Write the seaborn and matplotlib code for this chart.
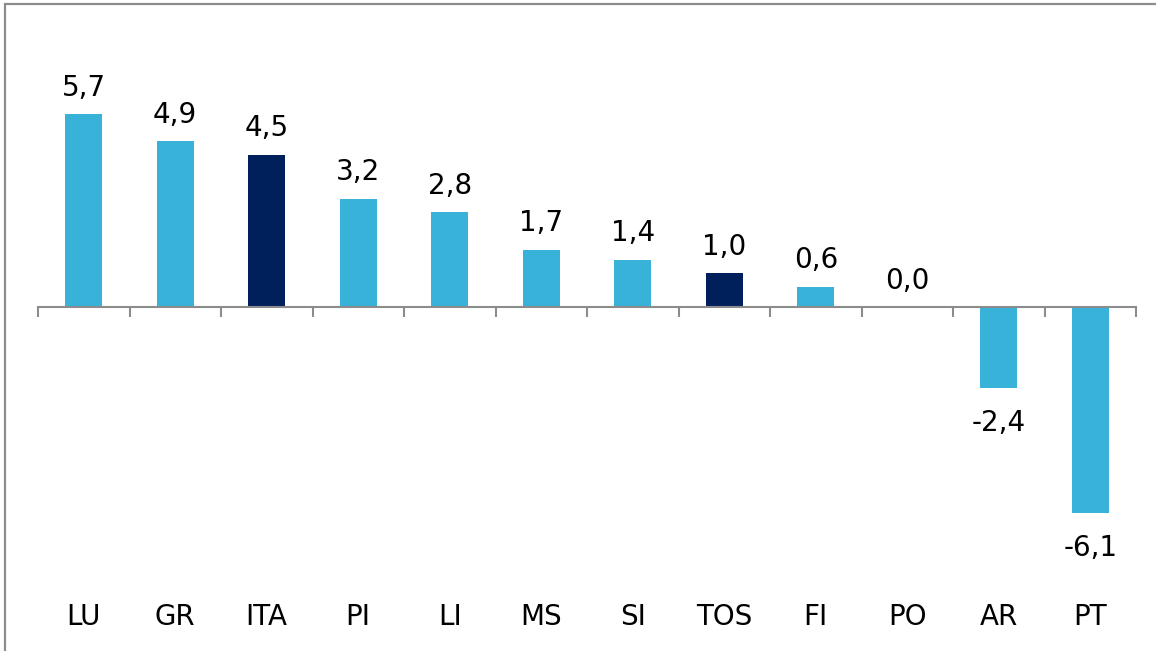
import numpy as np
import pandas as pd
import matplotlib
matplotlib.use("Agg")
import matplotlib.pyplot as plt
import seaborn as sns
from matplotlib.patches import Rectangle

# data
categories = ["LU", "GR", "ITA", "PI", "LI", "MS", "SI", "TOS", "FI", "PO", "AR", "PT"]
values = [5.7, 4.9, 4.5, 3.2, 2.8, 1.7, 1.4, 1.0, 0.6, 0.0, -2.4, -6.1]
highlight = ["ITA", "TOS"]

light = "#38B2D9"
dark = "#00205B"
grey = "#8C8C8C"

df = pd.DataFrame({"cat": categories, "val": values})
palette = {c: (dark if c in highlight else light) for c in categories}

sns.set_style("white")
plt.rcParams["font.family"] = ["DejaVu Sans"]

W, H = 1156, 651
fig = plt.figure(figsize=(W / 100, H / 100), dpi=100)
# axes placed in pixel terms: zero line at y=307, ~33.8 px per unit
left, right, top, bottom = 38, 1136, 20, 596
ax = fig.add_axes([left / W, (H - bottom) / H, (right - left) / W, (bottom - top) / H])

sns.barplot(data=df, x="cat", y="val", hue="cat", palette=palette,
            width=0.4, legend=False, saturation=1, linewidth=0, ax=ax)

ppu = 33.8
ax.set_ylim(-(bottom - 307) / ppu, (307 - top) / ppu)
ax.set_xlim(-0.5, len(categories) - 0.5)

fs = 20
# value labels
for i, v in enumerate(values):
    lab = f"{v:.1f}".replace(".", ",")
    if v >= 0:
        ax.annotate(lab, (i, v), xytext=(0, 9), textcoords="offset points",
                    ha="center", va="bottom", fontsize=fs, color="black")
    else:
        ax.annotate(lab, (i, v), xytext=(0, -15), textcoords="offset points",
                    ha="center", va="top", fontsize=fs, color="black")

# zero axis with ticks between categories
for s in ["top", "right", "left"]:
    ax.spines[s].set_visible(False)
ax.spines["bottom"].set_position(("data", 0))
ax.spines["bottom"].set_color(grey)
ax.spines["bottom"].set_linewidth(1.5)
ax.set_xticks(np.arange(-0.5, len(categories), 1.0), minor=True)
ax.tick_params(axis="x", which="minor", bottom=True, length=7, width=1.5,
               color=grey, direction="out")
ax.tick_params(axis="x", which="major", length=0, labelbottom=False)
ax.set_yticks([])
ax.set_xlabel("")
ax.set_ylabel("")

# category labels at the bottom of the plot area
sec = ax.secondary_xaxis(0)
sec.set_xticks(range(len(categories)))
sec.set_xticklabels(categories, fontsize=fs, color="black")
sec.tick_params(length=0, pad=5)
sec.spines["bottom"].set_visible(False)

# outer chart frame (only top and left edges visible)
fig.add_artist(Rectangle((5 / W, -0.5), 2.0, 0.5 + (H - 4) / H, transform=fig.transFigure,
                         fill=False, edgecolor=grey, linewidth=1.6, clip_on=False))

fig.savefig("out.png", dpi=100)
